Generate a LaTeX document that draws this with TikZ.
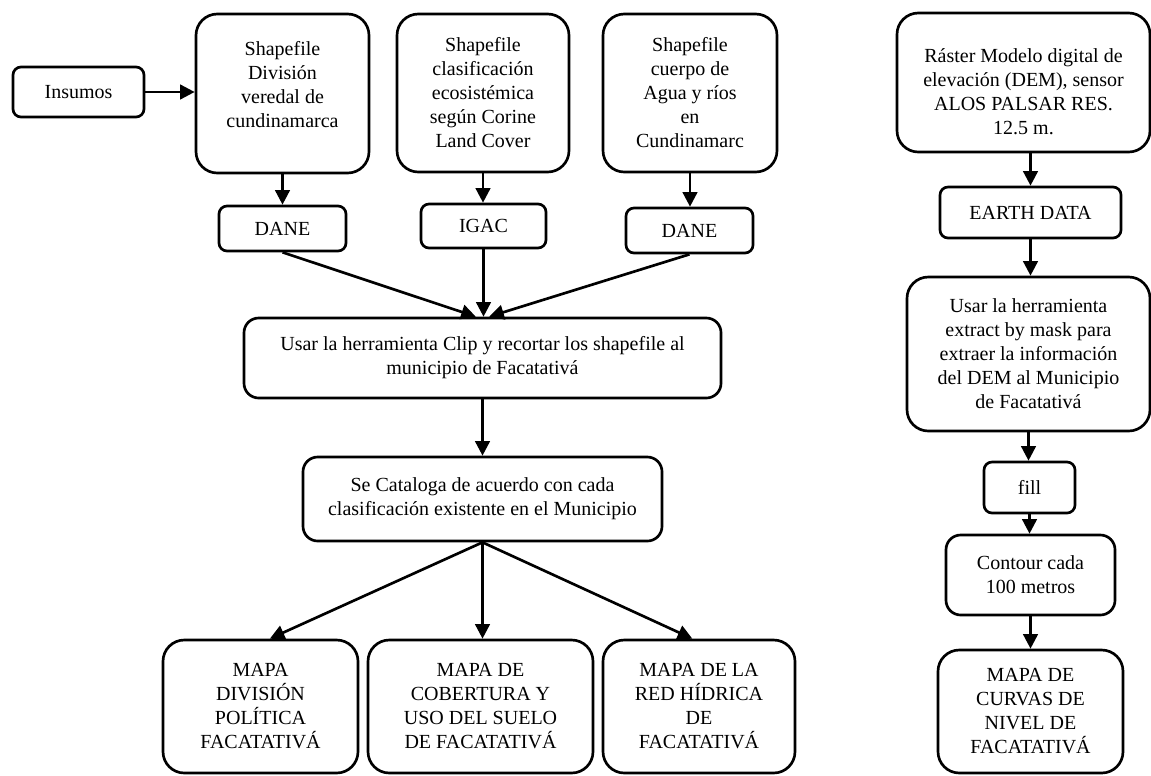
\documentclass[tikz,border=0pt]{standalone}
\usepackage{fontspec}
\setmainfont{Liberation Serif}
\usepackage{tikz}
\usetikzlibrary{arrows.meta}

\tikzset{
  caja/.style={draw, line width=2pt, align=center, inner sep=0pt,
    font=\fontsize{15pt}{18pt}\selectfont},
  grande/.style={caja, rounded corners=16pt},
  media/.style={caja, rounded corners=11pt},
  chica/.style={caja, rounded corners=6pt},
  flecha/.style={-{Triangle[length=11pt,width=11pt]}, line width=2pt},
}

\begin{document}
\begin{tikzpicture}[x=0.75pt, y=-0.75pt]
  \useasboundingbox (0,0) rectangle (1151,775);

  % insumos vectoriales
  \node[chica, minimum width=98.25pt, minimum height=37.5pt] (ins) at (78.5,92) {Insumos};
  \node[grande, minimum width=129.75pt, minimum height=119.25pt] (shp1) at (282.5,93.5)
    {Shapefile\\ División\\ veredal de\\ cundinamarca\\[-4pt] \mbox{}};
  \node[grande, minimum width=129pt, minimum height=118.5pt] (shp2) at (483,93)
    {Shapefile\\ clasificación\\ ecosistémica\\ según Corine\\ Land Cover};
  \node[grande, minimum width=130.5pt, minimum height=118.5pt] (shp3) at (690,93)
    {Shapefile\\ cuerpo de\\ Agua y ríos\\ en\\ Cundinamarc};

  \node[chica, minimum width=95.25pt, minimum height=33.75pt] (dane1) at (282.5,228.5) {DANE};
  \node[chica, minimum width=93.75pt, minimum height=33pt] (igac) at (483.5,226) {IGAC};
  \node[chica, minimum width=95.25pt, minimum height=33.75pt] (dane2) at (689.5,230.5) {DANE};

  \node[media, minimum width=357.75pt, minimum height=60pt] (clip) at (482.5,358)
    {Usar la herramienta Clip y recortar los shapefile al\\ municipio de Facatativá};
  \node[media, minimum width=269.25pt, minimum height=63pt] (cat) at (482.5,499)
    {Se Cataloga de acuerdo con cada\\ clasificación existente en el Municipio};

  \node[grande, minimum width=146.25pt, minimum height=99.75pt] (m1) at (260.5,706.5)
    {MAPA\\ DIVISIÓN\\ POLÍTICA\\ FACATATIVÁ};
  \node[grande, minimum width=168.75pt, minimum height=99.75pt] (m2) at (480.5,706.5)
    {MAPA DE\\ COBERTURA Y\\ USO DEL SUELO\\ DE FACATATIVÁ};
  \node[grande, minimum width=144pt, minimum height=99.75pt] (m3) at (699,706.5)
    {MAPA DE LA\\ RED HÍDRICA\\ DE\\ FACATATIVÁ};

  % raster
  \node[grande, minimum width=189.75pt, minimum height=104.25pt] (dem) at (1023.5,82.5)
    {\rule{0pt}{24pt}Ráster Modelo digital de\\ elevación (DEM), sensor\\ ALOS PALSAR RES.\\ 12.5 m.};
  \node[chica, minimum width=135.75pt, minimum height=38.25pt] (earth) at (1030.5,212.5) {EARTH DATA};
  \node[grande, minimum width=182.25pt, minimum height=115.5pt] (ext) at (1028.5,354)
    {Usar la herramienta\\ extract by mask para\\ extraer la información\\ del DEM al Municipio\\ de Facatativá};
  \node[chica, minimum width=68.25pt, minimum height=38.25pt] (fill) at (1029.5,487.5) {fill};
  \node[media, minimum width=126.75pt, minimum height=60pt] (cont) at (1030.5,575)
    {Contour cada\\ 100 metros};
  \node[grande, minimum width=138.75pt, minimum height=92.25pt] (curv) at (1030.5,711.5)
    {MAPA DE\\ CURVAS DE\\ NIVEL DE\\ FACATATIVÁ};

  \draw[flecha] (ins.east) -- (ins.east -| shp1.west);
  \foreach \a/\b in {shp1/dane1, shp2/igac, shp3/dane2, clip/cat, earth/ext, ext/fill, fill/cont, cont/curv}
    \draw[flecha] (\a.south) -- (\a.south |- \b.north);
  \draw[flecha] (dane1.south) -- ([xshift=-5pt]clip.north);
  \draw[flecha] (igac.south) -- (igac.south |- clip.north);
  \draw[flecha] (dane2.south) -- ([xshift=5pt]clip.north);

  \draw[flecha] (cat.south) -- ([xshift=7pt]m1.north);
  \draw[flecha] (cat.south) -- (cat.south |- m2.north);
  \draw[flecha] (cat.south) -- ([xshift=-5pt]m3.north);
  \draw[flecha] (dem.south -| earth.north) -- (earth.north);

\end{tikzpicture}
\end{document}
